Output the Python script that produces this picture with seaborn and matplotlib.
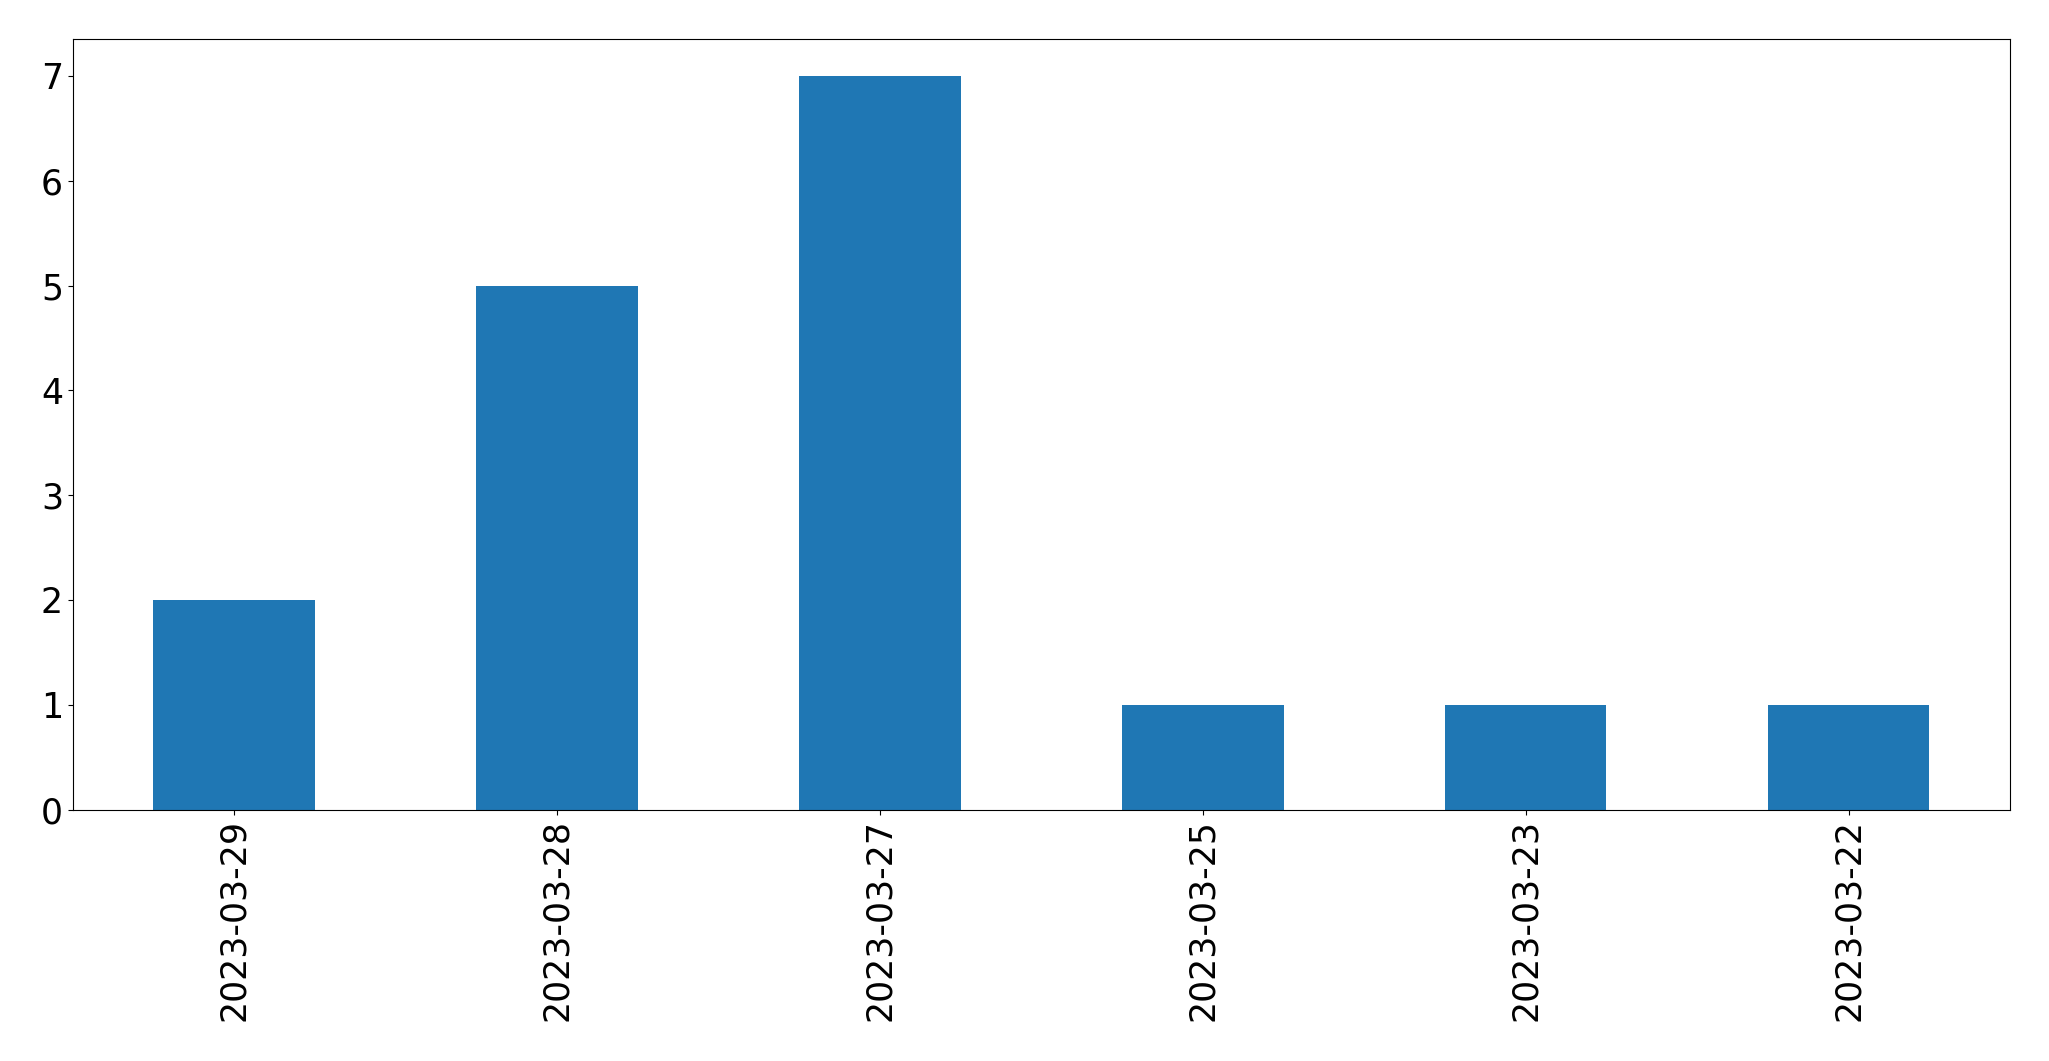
import matplotlib
matplotlib.use("Agg")
import matplotlib.pyplot as plt
import seaborn as sns
import pandas as pd

dates = ["2023-03-29", "2023-03-28", "2023-03-27", "2023-03-25", "2023-03-23", "2023-03-22"]
counts = [2, 5, 7, 1, 1, 1]

df = pd.DataFrame({"date": dates, "count": counts})

fig = plt.figure(figsize=(20.49, 10.61), dpi=100)
ax = fig.add_axes([0.0355, 0.237, 0.9455, 0.726])
sns.barplot(data=df, x="date", y="count", order=dates, color="#1f77b4",
            saturation=1, width=0.5, ax=ax)
ax.set_xlabel("")
ax.set_ylabel("")
ax.set_xlim(-0.5, len(dates) - 0.5)
ax.set_ylim(0, 7.35)
ax.tick_params(axis="both", labelsize=25)
plt.setp(ax.get_xticklabels(), rotation=90)
fig.savefig("out.png", dpi=100)
